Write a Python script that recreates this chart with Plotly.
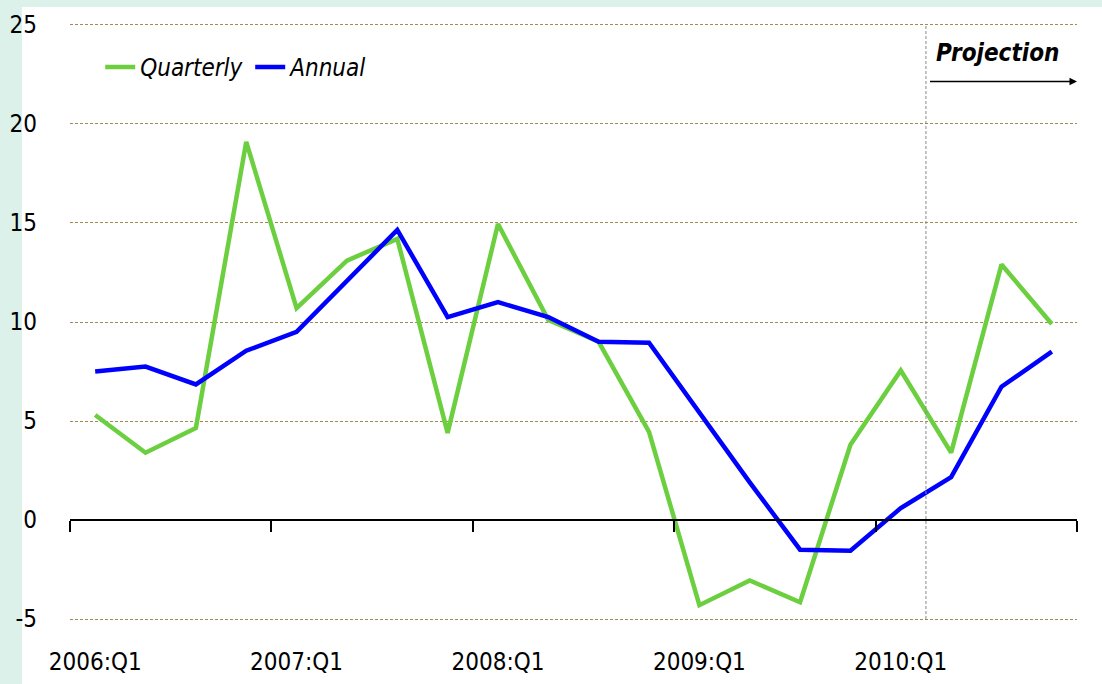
import plotly.graph_objects as go

quarters = [f"{y}:Q{q}" for y in range(2006, 2011) for q in range(1, 5)]
quarterly = [5.3, 3.4, 4.65, 19.1, 10.7, 13.1, 14.2, 4.4, 14.95, 10.1, 9.0, 4.45,
             -4.3, -3.05, -4.15, 3.8, 7.55, 3.4, 12.9, 9.9]
annual = [7.5, 7.75, 6.85, 8.55, 9.5, 12.05, 14.65, 10.25, 11.0, 10.25, 9.0, 8.95,
          5.4, 1.9, -1.5, -1.55, 0.6, 2.17, 6.73, 8.5]
y_ticks = [-5, 0, 5, 10, 15, 20, 25]
y_tick_text = ["-5", "0", "5", "10", "15", "20", "25"]
label_every = 4
projection_start = "2010:Q2"

idx = list(range(len(quarters)))
FONT = "DejaVu Sans Condensed, Liberation Sans Narrow, sans-serif"
GREEN = "#6ccf3f"
BLUE = "#0000ff"

fig = go.Figure()
fig.add_trace(go.Scatter(x=idx, y=quarterly, name="Quarterly", mode="lines",
                         line=dict(color=GREEN, width=4.5)))
fig.add_trace(go.Scatter(x=idx, y=annual, name="Annual", mode="lines",
                         line=dict(color=BLUE, width=4.5)))
# invisible trace to activate the zero-line axis
fig.add_trace(go.Scatter(x=[idx[0]], y=[0], xaxis="x2", mode="markers",
                         marker=dict(opacity=0), showlegend=False, hoverinfo="skip"))

xr = [-0.5, len(quarters) - 0.5]
yr = [-5.15, 25.15]
p_idx = quarters.index(projection_start) - 0.5

fig.update_layout(
    width=1102, height=684,
    margin=dict(l=70, r=25, t=22, b=62, autoexpand=False),
    paper_bgcolor="#ddf1eb",
    plot_bgcolor="white",
    font=dict(family=FONT, size=24, color="black"),
    showlegend=True,
    legend=dict(orientation="h", x=0.030, y=0.962, xanchor="left", yanchor="top",
                bgcolor="rgba(0,0,0,0)", font=dict(family=FONT, size=24, style="italic"),
                itemwidth=30, entrywidth=105, entrywidthmode="pixels", tracegroupgap=0),
    xaxis=dict(range=xr, tickmode="array",
               tickvals=idx[::label_every], ticktext=quarters[::label_every],
               showgrid=False, zeroline=False, showline=False, ticks="",
               ticklabelstandoff=23, automargin=False, fixedrange=True),
    xaxis2=dict(range=xr, overlaying="x", anchor="free",
                position=(0 - yr[0]) / (yr[1] - yr[0]), side="bottom",
                tickmode="array",
                tickvals=[i - 0.5 for i in idx[::label_every]] + [xr[1]],
                showticklabels=False, ticks="outside", ticklen=11, tickwidth=2,
                tickcolor="black", showline=True, linecolor="black", linewidth=2,
                showgrid=False, zeroline=False, automargin=False),
    yaxis=dict(range=yr, tickmode="array", tickvals=y_ticks, ticktext=y_tick_text,
               showgrid=True, gridcolor="#a08c50", griddash="3px,2px", gridwidth=1,
               zeroline=False, showline=False, ticks="", ticklabelstandoff=32,
               automargin=False),
    shapes=[
        dict(type="rect", xref="paper", yref="paper", x0=-0.0477, x1=1.03,
             y0=-0.12, y1=1.025, fillcolor="white", line=dict(width=0), layer="below"),
        dict(type="line", xref="x", yref="y", x0=p_idx, x1=p_idx, y0=-5, y1=25,
             line=dict(color="#888888", width=1, dash="3px,2px")),
    ],
    annotations=[
        dict(text="<b><i>Projection</i></b>", xref="x", yref="y", x=17.93, y=23.6,
             showarrow=False, xanchor="center", yanchor="middle",
             font=dict(family=FONT, size=24)),
        dict(text="", xref="x", yref="y", axref="x", ayref="y",
             x=xr[1], y=22.15, ax=p_idx + 0.05, ay=22.15,
             showarrow=True, arrowhead=2, arrowsize=1, arrowwidth=1.5, arrowcolor="black"),
    ],
)

fig.write_html("out.html", config={"displayModeBar": False},
               post_script="document.body.style.margin='0';")
